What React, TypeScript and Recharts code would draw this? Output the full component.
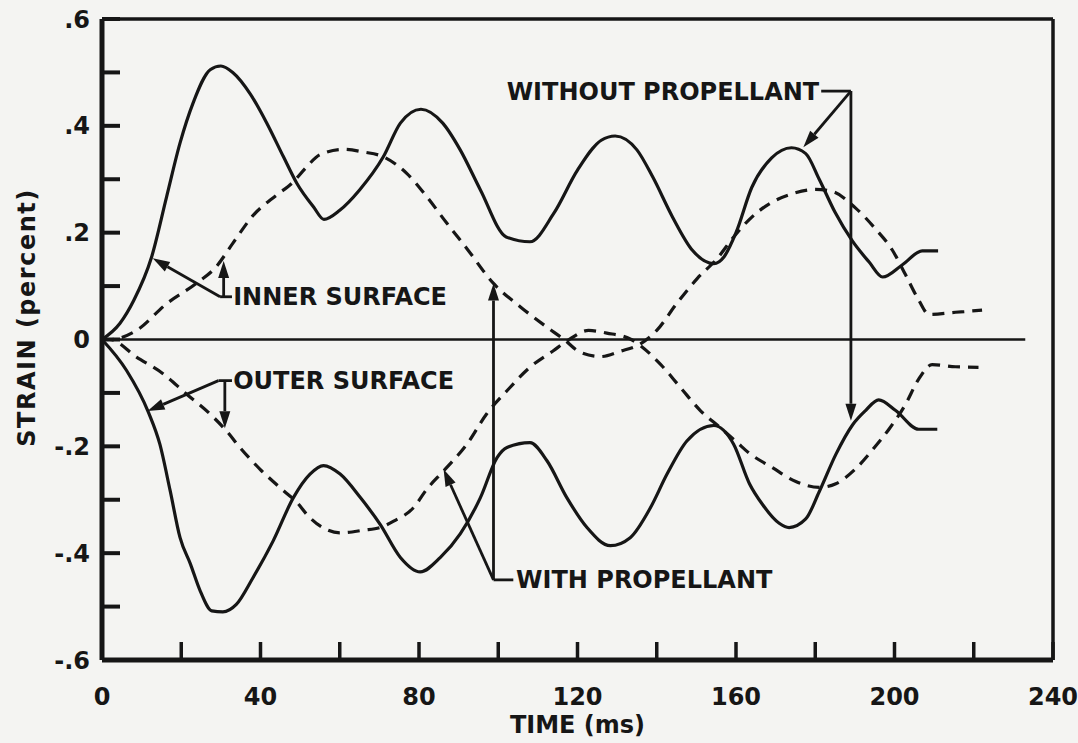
import { LineChart, Line, XAxis, YAxis, ReferenceLine, ReferenceDot } from "recharts";

// strain (percent) against time (ms)
const innerWithout = [
  { t: 0, v: 0 }, { t: 4.5, v: 0.03 }, { t: 8, v: 0.073 }, { t: 12.5, v: 0.154 }, { t: 16.3, v: 0.267 },
  { t: 19.7, v: 0.368 }, { t: 23, v: 0.443 }, { t: 27.3, v: 0.505 }, { t: 30, v: 0.512 }, { t: 33, v: 0.5 },
  { t: 37.4, v: 0.46 }, { t: 41.6, v: 0.405 }, { t: 45.8, v: 0.342 }, { t: 49.2, v: 0.292 }, { t: 53.4, v: 0.248 },
  { t: 56, v: 0.225 }, { t: 60, v: 0.242 }, { t: 65, v: 0.28 }, { t: 71, v: 0.342 }, { t: 75.3, v: 0.405 },
  { t: 80.5, v: 0.431 }, { t: 86, v: 0.405 }, { t: 90.4, v: 0.355 }, { t: 95.5, v: 0.28 }, { t: 102, v: 0.192 },
  { t: 108, v: 0.183 }, { t: 114, v: 0.236 }, { t: 120, v: 0.317 }, { t: 126, v: 0.373 }, { t: 129.5, v: 0.381 },
  { t: 135, v: 0.355 }, { t: 139, v: 0.304 }, { t: 144, v: 0.229 }, { t: 149, v: 0.167 }, { t: 154.4, v: 0.142 },
  { t: 157, v: 0.155 }, { t: 160, v: 0.2 }, { t: 164, v: 0.285 }, { t: 169, v: 0.34 }, { t: 174, v: 0.359 },
  { t: 177.6, v: 0.348 }, { t: 181, v: 0.3 }, { t: 185, v: 0.238 }, { t: 189.4, v: 0.184 }, { t: 193.6, v: 0.145 },
  { t: 197, v: 0.117 }, { t: 202, v: 0.14 }, { t: 207, v: 0.166 }, { t: 211, v: 0.166 },
];

const outerWithout = [
  { t: 0, v: 0 }, { t: 6.2, v: -0.058 }, { t: 11.7, v: -0.136 }, { t: 14.6, v: -0.196 }, { t: 17.2, v: -0.283 },
  { t: 19.7, v: -0.371 }, { t: 22.3, v: -0.42 }, { t: 24.8, v: -0.471 }, { t: 27.7, v: -0.508 }, { t: 30.5, v: -0.51 },
  { t: 33.9, v: -0.496 }, { t: 38.1, v: -0.446 }, { t: 43.2, v: -0.377 }, { t: 48.3, v: -0.296 }, { t: 52.5, v: -0.252 },
  { t: 55.9, v: -0.236 }, { t: 60.1, v: -0.252 }, { t: 65.2, v: -0.296 }, { t: 70.2, v: -0.346 }, { t: 75.3, v: -0.408 },
  { t: 80.3, v: -0.435 }, { t: 85.4, v: -0.408 }, { t: 90.4, v: -0.364 }, { t: 95.5, v: -0.296 }, { t: 99.7, v: -0.221 },
  { t: 102.2, v: -0.202 }, { t: 108, v: -0.193 }, { t: 112.3, v: -0.227 }, { t: 117.3, v: -0.296 }, { t: 122.4, v: -0.352 },
  { t: 128.3, v: -0.386 }, { t: 133.3, v: -0.371 }, { t: 138.4, v: -0.315 }, { t: 142.6, v: -0.252 }, { t: 147.6, v: -0.19 },
  { t: 154.4, v: -0.161 }, { t: 159.4, v: -0.196 }, { t: 163.4, v: -0.27 }, { t: 166.7, v: -0.309 }, { t: 170.9, v: -0.344 },
  { t: 173.4, v: -0.352 }, { t: 177.6, v: -0.336 }, { t: 181, v: -0.285 }, { t: 185.2, v: -0.215 }, { t: 189.4, v: -0.16 },
  { t: 192.7, v: -0.133 }, { t: 196, v: -0.113 }, { t: 200.3, v: -0.133 }, { t: 206.1, v: -0.168 }, { t: 210.8, v: -0.168 },
];

const innerWith = [
  { t: 0, v: 0 }, { t: 2, v: 0 }, { t: 8.7, v: 0.017 }, { t: 16.3, v: 0.067 }, { t: 23.8, v: 0.105 },
  { t: 28.8, v: 0.136 }, { t: 33, v: 0.18 }, { t: 38.1, v: 0.232 }, { t: 44, v: 0.27 }, { t: 48, v: 0.293 },
  { t: 51.5, v: 0.322 }, { t: 55, v: 0.346 }, { t: 61, v: 0.356 }, { t: 66, v: 0.351 }, { t: 71, v: 0.342 },
  { t: 76.9, v: 0.311 }, { t: 82, v: 0.267 }, { t: 87, v: 0.218 }, { t: 92.1, v: 0.17 }, { t: 98.8, v: 0.105 },
  { t: 105.6, v: 0.061 }, { t: 112.3, v: 0.023 }, { t: 116.6, v: 0 }, { t: 120.7, v: -0.024 }, { t: 125.8, v: -0.032 },
  { t: 130.8, v: -0.022 }, { t: 135.9, v: -0.008 }, { t: 140, v: 0.017 }, { t: 145, v: 0.067 }, { t: 150.2, v: 0.114 },
  { t: 155.3, v: 0.152 }, { t: 159, v: 0.188 }, { t: 163.4, v: 0.225 }, { t: 168.4, v: 0.254 }, { t: 174.3, v: 0.273 },
  { t: 180.1, v: 0.281 }, { t: 184.3, v: 0.277 }, { t: 190.2, v: 0.246 }, { t: 195.2, v: 0.207 }, { t: 199.4, v: 0.168 },
  { t: 202.8, v: 0.121 }, { t: 206.1, v: 0.074 }, { t: 208.7, v: 0.047 }, { t: 215.4, v: 0.051 }, { t: 222.1, v: 0.055 },
];

const outerWith = [
  { t: 0, v: 0 }, { t: 2, v: 0 }, { t: 8.7, v: -0.033 }, { t: 15.4, v: -0.064 }, { t: 21.3, v: -0.102 },
  { t: 27.2, v: -0.139 }, { t: 31.4, v: -0.171 }, { t: 34.8, v: -0.202 }, { t: 39.9, v: -0.243 }, { t: 45.8, v: -0.283 },
  { t: 49.2, v: -0.305 }, { t: 52, v: -0.33 }, { t: 55.9, v: -0.353 }, { t: 60.1, v: -0.362 }, { t: 66, v: -0.357 },
  { t: 70.2, v: -0.352 }, { t: 73.6, v: -0.34 }, { t: 78.6, v: -0.315 }, { t: 82, v: -0.28 }, { t: 86.2, v: -0.246 },
  { t: 92.1, v: -0.196 }, { t: 97.1, v: -0.139 }, { t: 102.2, v: -0.096 }, { t: 108, v: -0.052 }, { t: 113.9, v: -0.021 },
  { t: 117.3, v: -0.003 }, { t: 122.8, v: 0.017 }, { t: 127.4, v: 0.012 }, { t: 133.3, v: 0.001 }, { t: 140.9, v: -0.046 },
  { t: 146, v: -0.09 }, { t: 151, v: -0.133 }, { t: 156, v: -0.165 }, { t: 160.3, v: -0.193 }, { t: 163.4, v: -0.213 },
  { t: 169.2, v: -0.24 }, { t: 175.1, v: -0.266 }, { t: 181, v: -0.277 }, { t: 185.2, v: -0.27 }, { t: 190.2, v: -0.242 },
  { t: 194.4, v: -0.207 }, { t: 198.6, v: -0.168 }, { t: 202.8, v: -0.121 }, { t: 206.1, v: -0.074 }, { t: 209.5, v: -0.047 },
  { t: 215.4, v: -0.051 }, { t: 221.2, v: -0.052 },
];

const timeTicks = [0, 20, 40, 60, 80, 100, 120, 140, 160, 180, 200, 220, 240];
const timeLabels = [0, 40, 80, 120, 160, 200, 240];
const strainTicks = [-0.6, -0.5, -0.4, -0.3, -0.2, -0.1, 0, 0.1, 0.2, 0.3, 0.4, 0.5, 0.6];
const strainLabels = [-0.6, -0.4, -0.2, 0, 0.2, 0.4, 0.6];

// callout texts and their leader lines, in (time, strain)
const notes = [
  { text: "INNER SURFACE", t: 33.1, v: 0.08, side: "right" },
  { text: "OUTER SURFACE", t: 33.1, v: -0.077, side: "right" },
  { text: "WITHOUT PROPELLANT", t: 181, v: 0.465, side: "left" },
  { text: "WITH PROPELLANT", t: 104.5, v: -0.45, side: "right" },
];
const leaders = [
  { a: [29.8, 0.08], b: [12.8, 0.152], head: true },
  { a: [29.8, 0.08], b: [32.8, 0.08], head: false },
  { a: [30.7, 0.08], b: [30.7, 0.147], head: true },
  { a: [29.4, -0.077], b: [11.5, -0.134], head: true },
  { a: [29.4, -0.077], b: [32.8, -0.077], head: false },
  { a: [31, -0.077], b: [31, -0.166], head: true },
  { a: [181.5, 0.465], b: [189, 0.465], head: false },
  { a: [189, 0.465], b: [177, 0.36], head: true },
  { a: [189, 0.465], b: [189, -0.152], head: true },
  { a: [98.8, -0.45], b: [103.8, -0.45], head: false },
  { a: [98.8, -0.45], b: [98.8, 0.105], head: true },
  { a: [98.8, -0.45], b: [86.2, -0.243], head: true },
];

const INK = "#161616";
const FONT = "'DejaVu Sans', sans-serif";
const TICK = 18;

const fmtStrain = (v: number) => (v === 0 ? "0" : (v < 0 ? "-" : "") + "." + Math.round(Math.abs(v) * 10));

function BottomTick(props: any) {
  const { x, y, payload } = props;
  return (
    <g>
      <line x1={x} y1={y} x2={x} y2={y - TICK} stroke={INK} strokeWidth={3.5} />
      {timeLabels.includes(payload.value) && (
        <text x={x} y={y + 45} textAnchor="middle" fill={INK} fontSize={24} fontWeight={700} fontFamily={FONT}>
          {payload.value}
        </text>
      )}
    </g>
  );
}

function TopTick(props: any) {
  const { x, y } = props;
  return <line x1={x} y1={y} x2={x} y2={y + TICK} stroke={INK} strokeWidth={3.5} />;
}

function LeftTick(props: any) {
  const { x, y, payload } = props;
  return (
    <g>
      <line x1={x} y1={y} x2={x + TICK} y2={y} stroke={INK} strokeWidth={4} />
      {strainLabels.includes(payload.value) && (
        <text x={x - 12} y={y} dy="0.36em" textAnchor="end" fill={INK} fontSize={24} fontWeight={700} fontFamily={FONT}>
          {fmtStrain(payload.value)}
        </text>
      )}
    </g>
  );
}

function RightTick(props: any) {
  const { x, y } = props;
  return <line x1={x} y1={y} x2={x - TICK} y2={y} stroke={INK} strokeWidth={3.5} />;
}

function Arrow(props: any) {
  const { x1, y1, x2, y2 } = props;
  const ang = Math.atan2(y2 - y1, x2 - x1);
  const len = 17;
  const half = 5.5;
  const bx = x2 - len * Math.cos(ang);
  const by = y2 - len * Math.sin(ang);
  const pts = [
    `${x2},${y2}`,
    `${bx + half * Math.sin(ang)},${by - half * Math.cos(ang)}`,
    `${bx - half * Math.sin(ang)},${by + half * Math.cos(ang)}`,
  ].join(" ");
  return (
    <g>
      <line x1={x1} y1={y1} x2={bx} y2={by} stroke={INK} strokeWidth={2.8} />
      <polygon points={pts} fill={INK} />
    </g>
  );
}

function Stick(props: any) {
  const { x1, y1, x2, y2 } = props;
  return <line x1={x1} y1={y1} x2={x2} y2={y2} stroke={INK} strokeWidth={2.8} />;
}

const timeTitle = (props: any) => {
  const { x, y, width } = props.viewBox;
  return (
    <text x={x + width / 2} y={y + 73} textAnchor="middle" fill={INK} fontSize={24} fontWeight={700} fontFamily={FONT}>
      TIME (ms)
    </text>
  );
};

const strainTitle = (props: any) => {
  const { x, y, height } = props.viewBox;
  const cx = x + 35;
  const cy = y + height / 2 - 22;
  return (
    <text
      x={cx}
      y={cy}
      transform={`rotate(-90, ${cx}, ${cy})`}
      textAnchor="middle"
      fill={INK}
      fontSize={24}
      fontWeight={700}
      fontFamily={FONT}
      letterSpacing={1.5}
    >
      STRAIN (percent)
    </text>
  );
};

export default function App() {
  return (
    <div style={{ position: "fixed", left: 0, top: 0, width: 1078, height: 743, background: "#f4f4f2" }}>
      <LineChart width={1078} height={743} margin={{ top: 0, right: 0, bottom: 0, left: 0 }}>
        <XAxis
          dataKey="t"
          type="number"
          domain={[0, 240]}
          ticks={timeTicks}
          interval={0}
          height={83}
          tickSize={0}
          tickMargin={0}
          tickLine={false}
          tick={BottomTick}
          axisLine={{ stroke: INK, strokeWidth: 5 }}
          label={timeTitle}
        />
        <XAxis
          xAxisId="top"
          orientation="top"
          type="number"
          domain={[0, 240]}
          ticks={timeTicks}
          interval={0}
          height={19}
          tickSize={0}
          tickMargin={0}
          tickLine={false}
          tick={TopTick}
          axisLine={{ stroke: INK, strokeWidth: 3.5 }}
        />
        <YAxis
          type="number"
          domain={[-0.6, 0.6]}
          ticks={strainTicks}
          interval={0}
          width={102}
          tickSize={0}
          tickMargin={0}
          tickLine={false}
          tick={LeftTick}
          axisLine={{ stroke: INK, strokeWidth: 5 }}
          label={strainTitle}
        />
        <YAxis
          yAxisId="right"
          orientation="right"
          type="number"
          domain={[-0.6, 0.6]}
          ticks={strainTicks}
          interval={0}
          width={25}
          tickSize={0}
          tickMargin={0}
          tickLine={false}
          tick={RightTick}
          axisLine={{ stroke: INK, strokeWidth: 3.5 }}
        />

        <ReferenceLine segment={[{ x: 0, y: 0 }, { x: 233, y: 0 }]} stroke={INK} strokeWidth={2.5} />

        <Line data={innerWithout} dataKey="v" type="monotone" stroke={INK} strokeWidth={3.2} dot={false} isAnimationActive={false} />
        <Line data={outerWithout} dataKey="v" type="monotone" stroke={INK} strokeWidth={3.2} dot={false} isAnimationActive={false} />
        <Line data={innerWith} dataKey="v" type="monotone" stroke={INK} strokeWidth={3.2} strokeDasharray="12 8" dot={false} isAnimationActive={false} />
        <Line data={outerWith} dataKey="v" type="monotone" stroke={INK} strokeWidth={3.2} strokeDasharray="12 8" dot={false} isAnimationActive={false} />

        {leaders.map((l, i) => (
          <ReferenceLine
            key={"ld" + i}
            segment={[{ x: l.a[0], y: l.a[1] }, { x: l.b[0], y: l.b[1] }]}
            shape={l.head ? Arrow : Stick}
          />
        ))}
        {notes.map((n) => (
          <ReferenceDot
            key={n.text}
            x={n.t}
            y={n.v}
            r={0}
            fill="none"
            stroke="none"
            label={{
              value: n.text,
              position: n.side,
              offset: 0,
              fill: INK,
              fontSize: 24,
              fontWeight: 700,
              fontFamily: FONT,
            }}
          />
        ))}
      </LineChart>
    </div>
  );
}
